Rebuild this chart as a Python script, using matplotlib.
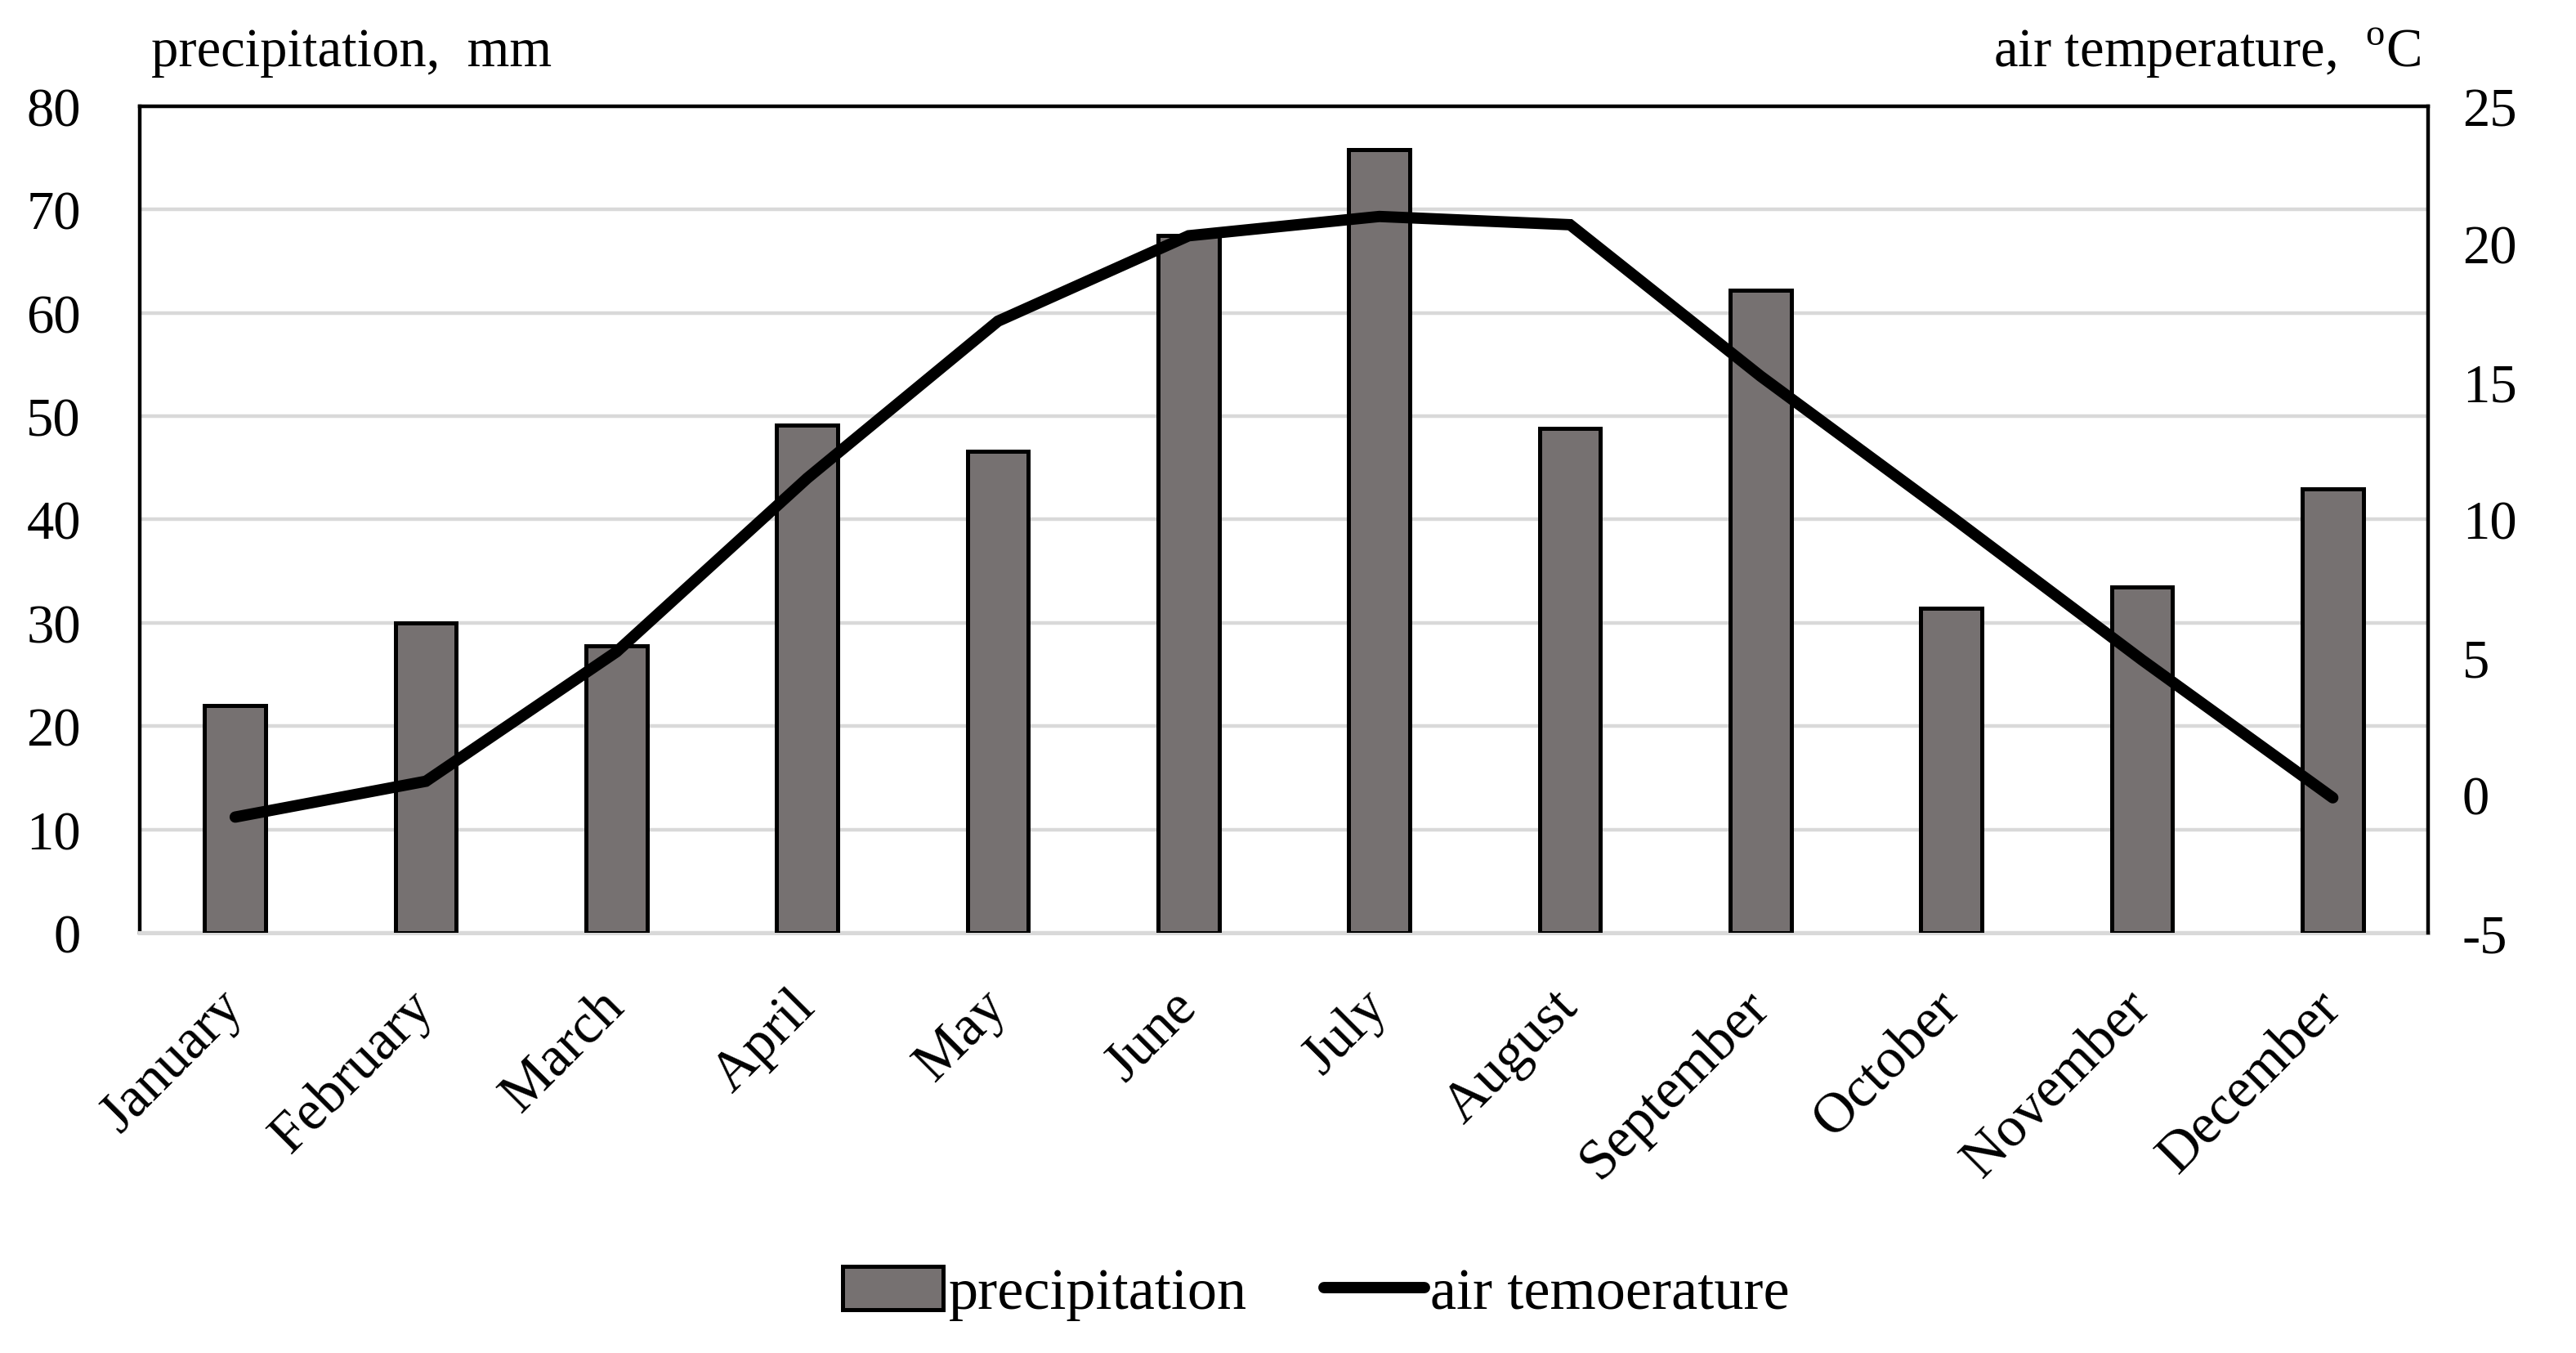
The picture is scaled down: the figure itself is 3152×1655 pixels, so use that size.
import matplotlib
matplotlib.use('Agg')
import matplotlib.pyplot as plt
import numpy as np

plt.rcParams['font.family'] = ['Liberation Serif', 'DejaVu Serif']
plt.rcParams['mathtext.fontset'] = 'custom'
plt.rcParams['mathtext.rm'] = 'Liberation Serif'
plt.rcParams['axes.unicode_minus'] = False

months = ['January', 'February', 'March', 'April', 'May', 'June', 'July',
          'August', 'September', 'October', 'November', 'December']
# precipitation, mm
precipitation = [22.0, 30.0, 27.8, 49.1, 46.6, 67.5, 75.8, 48.8, 62.2, 31.4, 33.5, 43.0]
# air temperature, degrees C
air_temperature = [-0.8, 0.5, 5.2, 11.5, 17.2, 20.3, 21.0, 20.7, 15.2, 10.1, 4.9, -0.1]

left_ticks = [0, 10, 20, 30, 40, 50, 60, 70, 80]
right_ticks = [-5, 0, 5, 10, 15, 20, 25]

bar_color = '#767171'
grid_color = '#d9d9d9'
tick_fs = 24
month_fs = 25
title_fs = 24
legend_fs = 26

fig = plt.figure(figsize=(15.76, 8.28), dpi=200)
ax = fig.add_axes([0.0543, 0.3104, 0.9426 - 0.0543, 0.9209 - 0.3104])
ax2 = ax.twinx()

x = np.arange(len(months))

# bars on the left axis
bars = ax.bar(x, precipitation, width=0.32, color=bar_color, edgecolor='black',
              linewidth=1.8, zorder=3, label='precipitation')
ax.set_xlim(-0.5, len(months) - 0.5)
ax.set_ylim(0, 80)
ax.set_yticks(left_ticks)
ax.yaxis.grid(True, color=grid_color, linewidth=1.6, zorder=0)
ax.set_axisbelow(True)

# temperature on the right axis
line, = ax2.plot(x, air_temperature, color='black', linewidth=5,
                 solid_capstyle='round', solid_joinstyle='miter', zorder=4,
                 label='air temoerature')
ax2.set_ylim(-5, 25)
ax2.set_yticks(right_ticks)

# spines
for s in ['left', 'top']:
    ax.spines[s].set_color('black')
    ax.spines[s].set_linewidth(1.6)
ax.spines['right'].set_visible(False)
ax.spines['bottom'].set_color(grid_color)
ax.spines['bottom'].set_linewidth(1.8)
for s in ['left', 'top', 'bottom']:
    ax2.spines[s].set_visible(False)
ax2.spines['right'].set_color('black')
ax2.spines['right'].set_linewidth(1.6)

# ticks
ax.tick_params(axis='y', length=0, pad=26, labelsize=tick_fs)
ax2.tick_params(axis='y', length=0, pad=15, labelsize=tick_fs)
ax.tick_params(axis='x', length=0, pad=29, labelsize=month_fs)
ax.set_xticks(x)
ax.set_xticklabels(months)
for lbl in ax.get_xticklabels():
    lbl.set_rotation(45)
    lbl.set_ha('right')
    lbl.set_va('center')
    lbl.set_rotation_mode('anchor')

# axis titles
fig.text(0.0587, 0.961, 'precipitation,  mm', fontsize=title_fs, ha='left', va='center')
fig.text(0.940, 0.961, 'air temperature,  $^{\\mathrm{o}}$C', fontsize=title_fs,
         ha='right', va='center')

# legend
fig.legend([bars, line], ['precipitation', 'air temoerature'], loc='center',
           bbox_to_anchor=(0.511, 0.044), ncol=2, frameon=False, fontsize=legend_fs,
           handlelength=1.7, handleheight=0.75, handletextpad=0.1,
           columnspacing=1.3)

fig.savefig('out.png', dpi=200)
